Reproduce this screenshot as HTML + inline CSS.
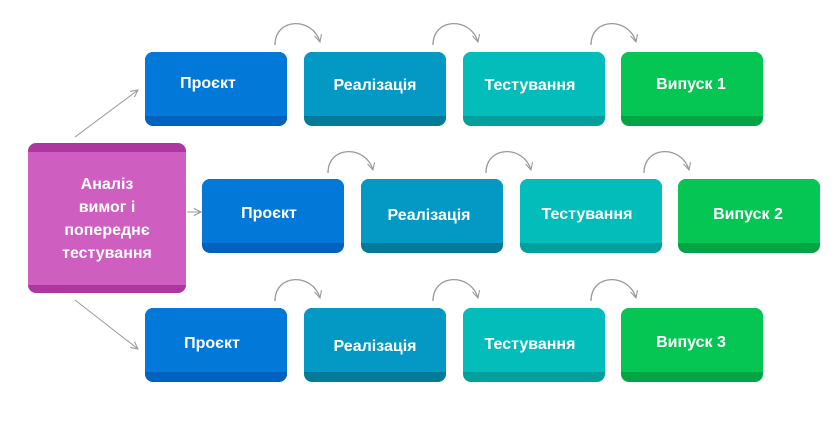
<!DOCTYPE html>
<html><head><meta charset="utf-8"><style>
html,body{margin:0;padding:0;background:#fff;}
svg{display:block}
text{font-family:"Liberation Sans","DejaVu Sans",sans-serif;font-weight:bold;fill:#fff;font-size:16px;text-anchor:middle}
</style></head><body>
<svg width="838" height="429" viewBox="0 0 838 429" xmlns="http://www.w3.org/2000/svg">
<defs>
<marker id="ah" viewBox="0 0 10 10" refX="9" refY="5" markerWidth="9" markerHeight="9" orient="auto" markerUnits="userSpaceOnUse">
<path d="M1,1 L9,5 L1,9" fill="none" stroke="#999" stroke-width="1.2"/></marker>
<g id="arc"><path d="M0,0 C0,-28 38,-28 45,-3" fill="none" stroke="#999" stroke-width="1.3" marker-end="url(#ah)"/></g>
</defs>
<!-- purple -->
<rect x="28" y="143" width="158" height="150" rx="8" fill="#ad36a0"/>
<rect x="28" y="152" width="158" height="133" fill="#cf5ec1"/>
<text x="107" y="189">Аналіз</text>
<text x="107" y="212">вимог і</text>
<text x="107" y="235">попереднє</text>
<text x="107" y="258">тестування</text>
<!-- connectors -->
<line x1="75" y1="137" x2="138" y2="90" stroke="#999" stroke-width="1" marker-end="url(#ah)"/>
<line x1="187" y1="212" x2="201" y2="212" stroke="#999" stroke-width="1" marker-end="url(#ah)"/>
<line x1="75" y1="300" x2="138" y2="349" stroke="#999" stroke-width="1" marker-end="url(#ah)"/>
<g id="row1">
<rect x="145" y="52" width="142" height="74" rx="8" fill="#0062bf"/><rect x="145" y="52" width="142" height="64" rx="8" fill="#0278d8"/><rect x="145" y="100" width="142" height="16" fill="#0278d8"/>
<text x="208" y="88">Проєкт</text>
<rect x="304" y="52" width="142" height="74" rx="8" fill="#027a98"/><rect x="304" y="52" width="142" height="64" rx="8" fill="#0399c4"/><rect x="304" y="100" width="142" height="16" fill="#0399c4"/>
<text x="375" y="90">Реалізація</text>
<rect x="463" y="52" width="142" height="74" rx="8" fill="#02a09c"/><rect x="463" y="52" width="142" height="64" rx="8" fill="#03bdba"/><rect x="463" y="100" width="142" height="16" fill="#03bdba"/>
<text x="530" y="90">Тестування</text>
<rect x="621" y="52" width="142" height="74" rx="8" fill="#03a444"/><rect x="621" y="52" width="142" height="64" rx="8" fill="#05c553"/><rect x="621" y="100" width="142" height="16" fill="#05c553"/>
<text x="691" y="89">Випуск 1</text>
<use href="#arc" x="275" y="45"/><use href="#arc" x="433" y="45"/><use href="#arc" x="591" y="45"/>
</g>
<g>
<rect x="202" y="179" width="142" height="74" rx="8" fill="#0062bf"/><rect x="202" y="179" width="142" height="64" rx="8" fill="#0278d8"/><rect x="202" y="227" width="142" height="16" fill="#0278d8"/>
<text x="269" y="218">Проєкт</text>
<rect x="361" y="179" width="142" height="74" rx="8" fill="#027a98"/><rect x="361" y="179" width="142" height="64" rx="8" fill="#0399c4"/><rect x="361" y="227" width="142" height="16" fill="#0399c4"/>
<text x="429" y="220">Реалізація</text>
<rect x="520" y="179" width="142" height="74" rx="8" fill="#02a09c"/><rect x="520" y="179" width="142" height="64" rx="8" fill="#03bdba"/><rect x="520" y="227" width="142" height="16" fill="#03bdba"/>
<text x="587" y="219">Тестування</text>
<rect x="678" y="179" width="142" height="74" rx="8" fill="#03a444"/><rect x="678" y="179" width="142" height="64" rx="8" fill="#05c553"/><rect x="678" y="227" width="142" height="16" fill="#05c553"/>
<text x="748" y="219">Випуск 2</text>
<use href="#arc" x="328" y="173"/><use href="#arc" x="486" y="173"/><use href="#arc" x="644" y="173"/>
</g>
<g>
<rect x="145" y="308" width="142" height="74" rx="8" fill="#0062bf"/><rect x="145" y="308" width="142" height="64" rx="8" fill="#0278d8"/><rect x="145" y="356" width="142" height="16" fill="#0278d8"/>
<text x="212" y="348">Проєкт</text>
<rect x="304" y="308" width="142" height="74" rx="8" fill="#027a98"/><rect x="304" y="308" width="142" height="64" rx="8" fill="#0399c4"/><rect x="304" y="356" width="142" height="16" fill="#0399c4"/>
<text x="375" y="351">Реалізація</text>
<rect x="463" y="308" width="142" height="74" rx="8" fill="#02a09c"/><rect x="463" y="308" width="142" height="64" rx="8" fill="#03bdba"/><rect x="463" y="356" width="142" height="16" fill="#03bdba"/>
<text x="530" y="349">Тестування</text>
<rect x="621" y="308" width="142" height="74" rx="8" fill="#03a444"/><rect x="621" y="308" width="142" height="64" rx="8" fill="#05c553"/><rect x="621" y="356" width="142" height="16" fill="#05c553"/>
<text x="691" y="347">Випуск 3</text>
<use href="#arc" x="275" y="301"/><use href="#arc" x="433" y="301"/><use href="#arc" x="591" y="301"/>
</g>
</svg>
</body></html>
